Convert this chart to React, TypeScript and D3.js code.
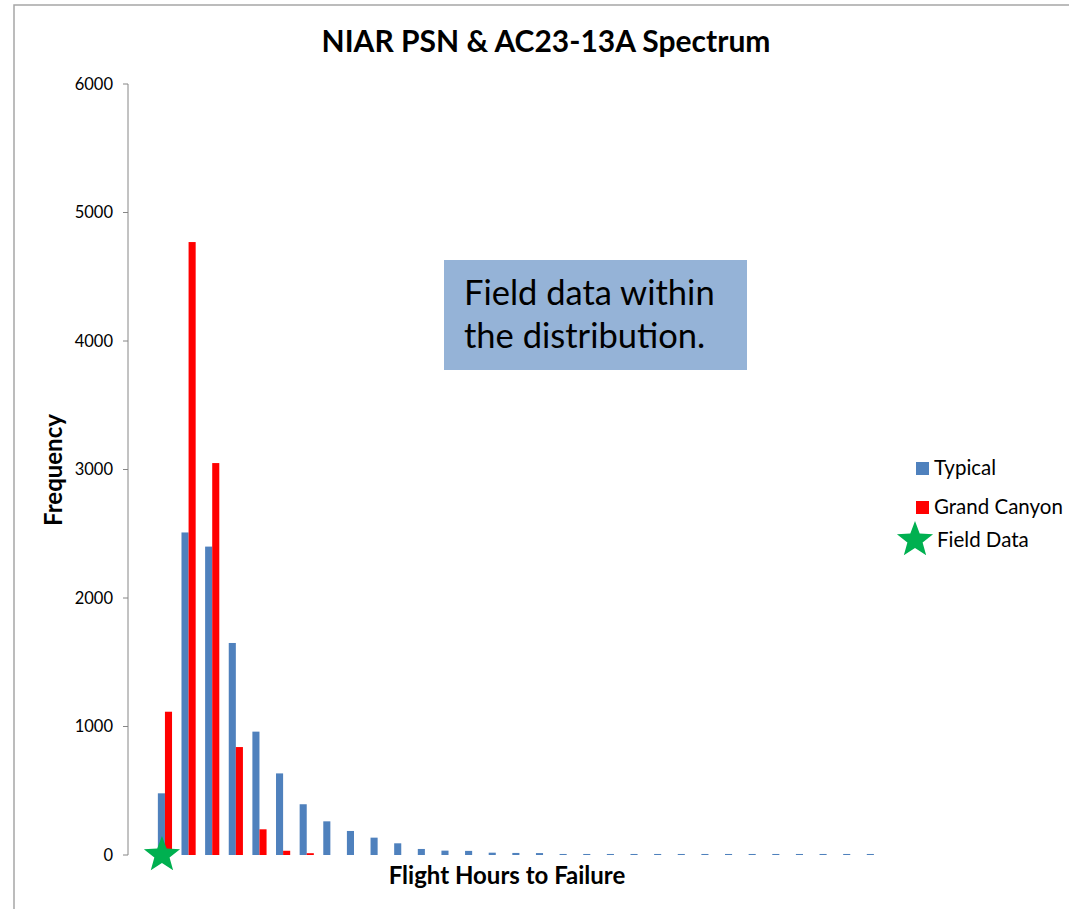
import React from 'react'
import * as d3 from 'd3'

// bins along the flight hours axis (first bin is empty)
const bins = d3.range(32).map(i => String(i));

const typical = [0, 480, 2510, 2400, 1650, 960, 635, 395, 262, 187, 135, 91, 47, 34, 32, 18, 16, 15, 8, 8, 8, 8, 8, 8, 8, 8, 8, 8, 8, 8, 8, 8];
const grandCanyon = [0, 1115, 4770, 3050, 840, 200, 33, 14, 0, 0, 0, 0, 0, 0, 0, 0, 0, 0, 0, 0, 0, 0, 0, 0, 0, 0, 0, 0, 0, 0, 0, 0];
const fieldData = [{bin: '1', value: 0}];

const yTicks = [0, 1000, 2000, 3000, 4000, 5000, 6000];

const W = 1069, H = 909;
const FONT = 'Lato, "Open Sans", sans-serif';

function starPath(cx: number, cy: number, outer: number, inner: number) {
    const pts: string[] = [];
    for (let i = 0; i < 10; i++) {
        const r = i % 2 === 0 ? outer : inner;
        const a = -Math.PI / 2 + i * Math.PI / 5;
        pts.push(`${cx + r * Math.cos(a)},${cy + r * Math.sin(a)}`);
    }
    return 'M' + pts.join('L') + 'Z';
}

export default function App() {
    const x = d3.scaleBand().domain(bins).range([129.5, 885.7]).paddingInner(0).paddingOuter(0);
    const y = d3.scaleLinear().domain([0, 6000]).range([855, 84]);
    const barW = x.bandwidth() * 0.3;
    const mid = (b: string) => (x(b) as number) + x.bandwidth() / 2;

    return (
        <svg width={W} height={H} style={{position: 'absolute', left: 0, top: 0}} fontFamily={FONT}>
            <rect x={0} y={0} width={W} height={H} fill="#fff" />
            {/* chart frame */}
            <rect x={14} y={5} width={W + 20} height={H + 20} fill="none" stroke="#a6a6a6" strokeWidth={1.5} />

            <text x={546} y={52} textAnchor="middle" fontSize={30} fontWeight="bold" fill="#000">NIAR PSN &amp; AC23-13A Spectrum</text>

            {/* y axis */}
            <line x1={128} x2={128} y1={y(6000)} y2={y(0)} stroke="#868686" strokeWidth={1} />
            {yTicks.map(t => (
                <g key={t}>
                    <line x1={123} x2={128} y1={y(t)} y2={y(t)} stroke="#868686" />
                    <text x={113} y={y(t)} dy="0.35em" textAnchor="end" fontSize={16.5} fill="#000">{t}</text>
                </g>
            ))}
            <text transform="translate(62,470) rotate(-90)" textAnchor="middle" fontSize={24} fontWeight="bold">Frequency</text>
            <text x={507} y={884} textAnchor="middle" fontSize={24} fontWeight="bold">Flight Hours to Failure</text>

            {/* bars */}
            {bins.map((b, i) => (
                <g key={b}>
                    {typical[i] > 0 && <rect x={mid(b) - barW} y={y(typical[i])} width={barW} height={y(0) - y(typical[i])} fill="#4f81bd" />}
                    {grandCanyon[i] > 0 && <rect x={mid(b)} y={y(grandCanyon[i])} width={barW} height={y(0) - y(grandCanyon[i])} fill="#ff0000" />}
                </g>
            ))}

            {fieldData.map((d, i) => (
                <path key={i} d={starPath(mid(d.bin) - 3, y(d.value), 19, 8)} fill="#00b050" />
            ))}

            {/* annotation box */}
            <rect x={444} y={260} width={303} height={110} fill="#95b3d7" />
            <text x={464} y={305} fontSize={34.5} fill="#000">Field data within</text>
            <text x={464} y={348} fontSize={34.5} fill="#000">the distribution.</text>

            {/* legend */}
            <rect x={916} y={462} width={13} height={13} fill="#4f81bd" />
            <text x={934} y={468} dy="0.35em" fontSize={20.5}>Typical</text>
            <rect x={916} y={501} width={13} height={13} fill="#ff0000" />
            <text x={934} y={507} dy="0.35em" fontSize={20.5}>Grand Canyon</text>
            <path d={starPath(915, 540, 19, 8)} fill="#00b050" />
            <text x={937} y={540} dy="0.35em" fontSize={20.5}>Field Data</text>
        </svg>
    )
}
